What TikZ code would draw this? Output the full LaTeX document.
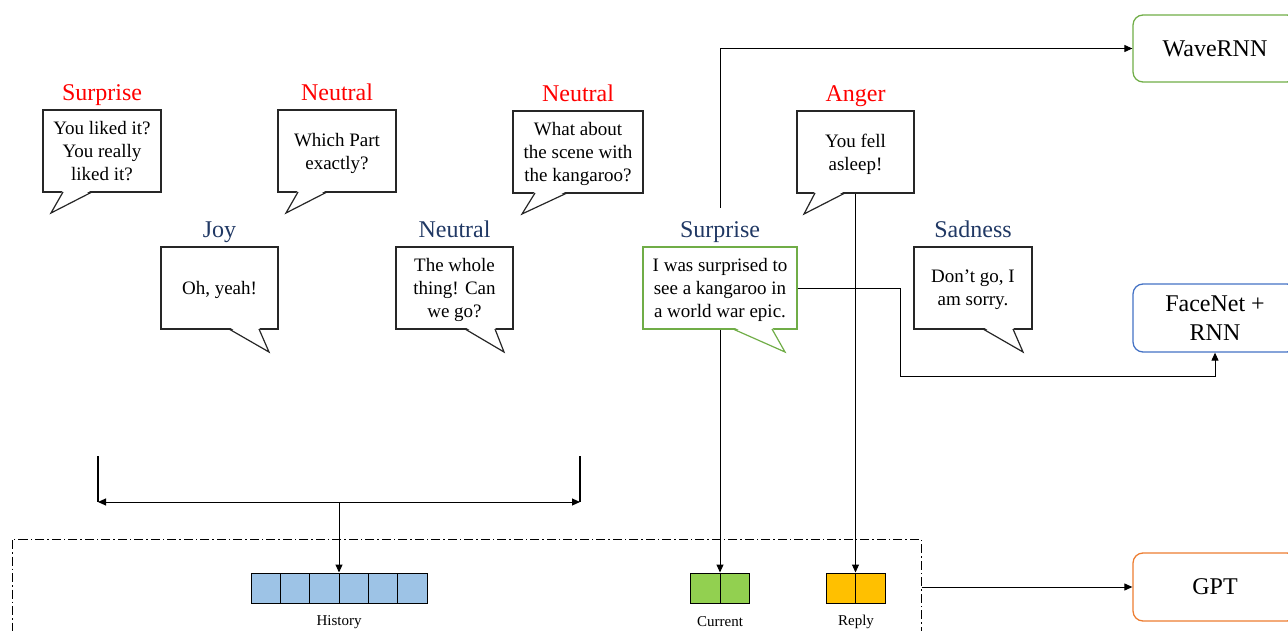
\documentclass[tikz,border=0pt]{standalone}
\usepackage{fontspec}
\setmainfont{Liberation Serif}
\usetikzlibrary{positioning,arrows.meta}

\definecolor{navy}{RGB}{32,56,100}
\definecolor{okgreen}{RGB}{112,173,71}
\definecolor{okblue}{RGB}{68,114,196}
\definecolor{okorange}{RGB}{237,125,49}
\definecolor{histblue}{RGB}{157,195,230}
\definecolor{curgreen}{RGB}{146,208,80}
\definecolor{repgold}{RGB}{255,192,0}

\tikzset{
  bubble/.style={draw=black!85, line width=1.2pt, fill=white, align=center, inner sep=0pt,
    font=\fontsize{19}{23}\selectfont, minimum width=118pt, minimum height=82pt, text depth=-7pt},
  tailline/.style={draw=black!85, line width=1.2pt, line join=miter},
  emo/.style={inner sep=0pt, text height=17pt, text depth=6pt, font=\fontsize{24}{28}\selectfont, above=3pt of #1},
  model/.style={draw, rounded corners=10pt, line width=1.3pt, minimum width=164pt, minimum height=67pt,
    align=center, font=\fontsize{24}{29}\selectfont},
  cell/.style={draw, line width=1pt, minimum height=30pt, inner sep=0pt},
  tag/.style={font=\fontsize{15}{18}\selectfont, inner sep=0pt},
  link/.style={line width=1pt, ->, >={Stealth[length=8pt, width=7pt, inset=0pt]}},
}

\begin{document}
\begin{tikzpicture}[x=1pt, y=-1pt]
        \useasboundingbox (0,0) rectangle (1288,631);
        \clip (0,0) rectangle (1288,631);

        % dash-dot frame round the GPT input
        \node[draw, line width=1pt, dash pattern=on 9pt off 3pt on 1.5pt off 3pt, minimum width=909pt, minimum height=161pt, inner sep=0pt] (frame) at (466.5,619.5) {};

        % speech bubbles, upper row
        \node[bubble] (b1) at (102,151) {You liked it?\\You really\\liked it?};
        \fill[white] (63,190) -- (51,213) -- (92,190) -- cycle;
        \draw[tailline] (63,192) -- (51,213) -- (92,192);
        \node[bubble] (b2) at (337,151) {Which Part\\exactly?};
        \fill[white] (298,190) -- (286,213) -- (327,190) -- cycle;
        \draw[tailline] (298,192) -- (286,213) -- (327,192);
        \node[bubble, minimum width=130pt] (b3) at (578,152) {What about\\the scene with\\the kangaroo?};
        \fill[white] (535,191) -- (522,214) -- (567,191) -- cycle;
        \draw[tailline] (535,193) -- (522,214) -- (567,193);
        \node[bubble, minimum width=117pt] (b7) at (855.5,152) {You fell\\asleep!};
        \fill[white] (815,191) -- (804,214) -- (845,191) -- cycle;
        \draw[tailline] (815,193) -- (804,214) -- (845,193);

        % speech bubbles, lower row
        \node[bubble, minimum width=117pt] (b4) at (219.5,288) {Oh, yeah!};
        \fill[white] (229,327) -- (269,352) -- (259,327) -- cycle;
        \draw[tailline] (229,329) -- (269,352) -- (259,329);
        \node[bubble, minimum width=117pt] (b5) at (454.5,288) {The whole\\thing! Can\\we go?};
        \fill[white] (465,327) -- (504,352) -- (495,327) -- cycle;
        \draw[tailline] (465,329) -- (504,352) -- (495,329);
        \node[bubble, draw=okgreen, minimum width=154pt] (b6) at (720,288) {I was surprised to\\see a kangaroo in\\a world war epic.};
        \fill[white] (733,327) -- (785,352) -- (772,327) -- cycle;
        \draw[tailline, draw=okgreen] (733,329) -- (785,352) -- (772,329);
        \node[bubble] (b8) at (973,288) {Don’t go, I\\am sorry.};
        \fill[white] (983,327) -- (1023,352) -- (1013,327) -- cycle;
        \draw[tailline] (983,329) -- (1023,352) -- (1013,329);

        % emotion labels
        \node[emo=b1, red] (l1) {Surprise};
        \node[emo=b2, red] (l2) {Neutral};
        \node[emo=b3, red] (l3) {Neutral};
        \node[emo=b7, red] (l7) {Anger};
        \node[emo=b4, navy] (l4) {Joy};
        \node[emo=b5, navy] (l5) {Neutral};
        \node[emo=b6, navy] (l6) {Surprise};
        \node[emo=b8, navy] (l8) {Sadness};

        % models
        \node[model, draw=okgreen] (wave) at (1215,48.5) {WaveRNN};
        \node[model, draw=okblue, minimum height=68pt] (face) at (1215,318) {FaceNet +\\RNN};
        \node[model, draw=okorange, minimum height=68pt] (gpt) at (1215,587) {GPT};

        % token blocks
        \node[cell, fill=histblue, minimum width=176pt] (hist) at (339,588) {};
        \draw[line width=1pt] (280.3,573) -- (280.3,603);
        \draw[line width=1pt] (309.7,573) -- (309.7,603);
        \draw[line width=1pt] (339,573) -- (339,603);
        \draw[line width=1pt] (368.3,573) -- (368.3,603);
        \draw[line width=1pt] (397.7,573) -- (397.7,603);
        \node[cell, fill=curgreen, minimum width=59pt] (cur) at (720,588) {};
        \draw[line width=1pt] (cur.north) -- (cur.south);
        \node[cell, fill=repgold, minimum width=59pt] (rep) at (855.5,588) {};
        \draw[line width=1pt] (rep.north) -- (rep.south);
        \node[tag] (histlab) at (339,622) {History};
        \node[tag] (curlab) at (720,622) {Current};
        \node[tag] (replab) at (856,622) {Reply};

        % history bracket
        \coordinate (bl) at (98,502);
        \coordinate (br) at (580,502);
        \coordinate (bm) at (339,502);
        \draw[line width=1.3pt] (98,456) -- (bl);
        \draw[line width=1.3pt] (580,456) -- (br);
        \draw[link, <->] (bl) -- (br);
        \draw[link] (bm) -- (hist.north);

        % connectors
        \draw[link] ([yshift=12pt]l6.north) |- (wave.west);
        \draw[link] (b6.east) -| (900,376) -| (face.south);
        \draw[link] (b6.south) -- (cur.north);
        \draw[link] (b7.south) -- (rep.north);
        \draw[link] (frame.east |- gpt.west) -- (gpt.west);
    \end{tikzpicture}
\end{document}
